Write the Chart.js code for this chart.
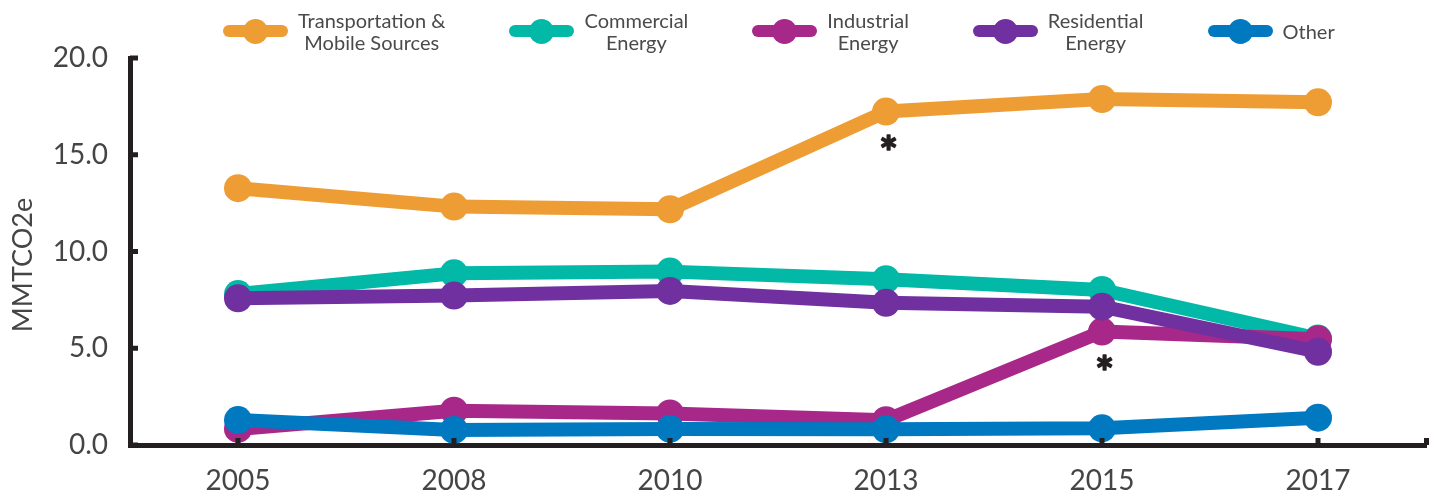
<!DOCTYPE html>
<html><head><meta charset="utf-8">
<script src="https://cdn.jsdelivr.net/npm/chart.js@4.4.0/dist/chart.umd.min.js"></script>
<style>
html,body{margin:0;padding:0;background:#fff;}
#wrap{position:relative;width:1440px;height:495px;overflow:hidden;}
#c{position:absolute;left:0;top:0;}
#legend{position:absolute;top:0;left:223px;height:62px;display:flex;align-items:center;font-family:Lato,sans-serif;font-size:20px;line-height:22px;color:#4a4a4a;}
.item{display:flex;align-items:center;margin-right:64px;}
.sw{position:relative;width:65px;height:25px;flex:none;}
.sw .bar{position:absolute;left:0;top:6.5px;width:65px;height:12px;border-radius:6px;}
.sw .dot{position:absolute;left:20px;top:0;width:25px;height:25px;border-radius:50%;}
.lbl{margin-left:10px;text-align:center;white-space:pre-line;}
</style></head>
<body><div id="wrap"><canvas id="c" width="1440" height="495"></canvas><div id="legend"></div></div>
<script>
const years = ['2005', '2008', '2010', '2013', '2015', '2017'];
const seriesNames = ['Transportation &\nMobile Sources', 'Commercial\nEnergy', 'Industrial\nEnergy', 'Residential\nEnergy', 'Other'];
const seriesColors = ['#EE9D34', '#02B8A6', '#A8288A', '#7030A0', '#0079C1'];
const transportation = [13.27, 12.32, 12.18, 17.23, 17.88, 17.71];
const commercial = [7.8, 8.87, 8.96, 8.56, 8.01, 5.5];
const industrial = [0.83, 1.77, 1.63, 1.28, 5.86, 5.46];
const residential = [7.58, 7.72, 7.96, 7.35, 7.15, 4.82];
const other = [1.29, 0.78, 0.83, 0.81, 0.86, 1.41];
const yTickValues = [0, 5, 10, 15, 20];
const yTitle = 'MMTCO2e';
const asteriskSeries = [0, 2];
const asteriskYears = ['2013', '2015'];

const seriesValues = [transportation, commercial, industrial, residential, other];
const drawOrder = [4, 3, 2, 1, 0];

// HTML legend
const legendEl = document.getElementById('legend');
seriesNames.forEach((n, i) => {
  const it = document.createElement('div'); it.className = 'item';
  const sw = document.createElement('div'); sw.className = 'sw';
  const bar = document.createElement('div'); bar.className = 'bar'; bar.style.background = seriesColors[i];
  const dot = document.createElement('div'); dot.className = 'dot'; dot.style.background = seriesColors[i];
  sw.appendChild(bar); sw.appendChild(dot);
  const lb = document.createElement('div'); lb.className = 'lbl'; lb.textContent = n;
  it.appendChild(sw); it.appendChild(lb);
  legendEl.appendChild(it);
});

const AXIS = '#231f20';
const TXT = '#454545';

const extras = {
  id: 'extras',
  afterDatasetsDraw(chart) {
    const {ctx, chartArea, scales: {x, y}} = chart;
    ctx.save();
    ctx.fillStyle = AXIS;
    y.ticks.forEach((t, i) => {
      const py = y.getPixelForTick(i);
      ctx.fillRect(chartArea.left, py - 2.5, 8, 5);
    });
    x.ticks.forEach((t, i) => {
      const px = x.getPixelForTick(i);
      ctx.fillRect(px - 2.5, chartArea.bottom - 7, 5, 7);
    });
    ctx.fillRect(chartArea.right - 2, chartArea.bottom - 7, 5, 7);
    // asterisks
    ctx.font = 'bold 44px Lato';
    ctx.textAlign = 'center';
    ctx.textBaseline = 'alphabetic';
    ctx.strokeStyle = AXIS;
    ctx.lineWidth = 1.6;
    ctx.lineJoin = 'round';
    const m = ctx.measureText('*');
    const off = (m.actualBoundingBoxAscent - m.actualBoundingBoxDescent) / 2;
    asteriskSeries.forEach((s, k) => {
      const idx = years.indexOf(asteriskYears[k]);
      const el = chart.getDatasetMeta(s).data[idx];
      ctx.fillText('*', el.x + 2.5, el.y + 30.5 + off);
      ctx.strokeText('*', el.x + 2.5, el.y + 30.5 + off);
    });
    // y title
    ctx.font = '27px Lato';
    ctx.fillStyle = TXT;
    ctx.textBaseline = 'middle';
    ctx.translate(23, 265);
    ctx.rotate(-Math.PI / 2);
    ctx.fillText(yTitle, 0, 0);
    ctx.restore();
  }
};

new Chart(document.getElementById('c'), {
  type: 'line',
  data: {
    labels: years,
    datasets: seriesValues.map((vals, i) => ({
      label: seriesNames[i].replace('\n', ' '),
      data: vals,
      borderColor: seriesColors[i],
      backgroundColor: seriesColors[i],
      pointBackgroundColor: seriesColors[i],
      borderWidth: 14,
      pointRadius: 14,
      pointHoverRadius: 14,
      pointBorderWidth: 0,
      borderJoinStyle: 'round',
      borderCapStyle: 'round',
      tension: 0,
      clip: false,
      order: drawOrder[i]
    }))
  },
  options: {
    responsive: false,
    animation: false,
    devicePixelRatio: 1,
    layout: {padding: {top: 58, left: 0, right: 11, bottom: 0}},
    plugins: {legend: {display: false}, tooltip: {enabled: false}},
    scales: {
      x: {
        type: 'category',
        offset: true,
        grid: {display: false, drawTicks: false},
        border: {display: true, width: 5, color: AXIS},
        ticks: {padding: 19, font: {family: 'Lato', size: 28}, color: TXT},
        afterFit(s) { s.height = 50; }
      },
      y: {
        min: 0, max: 20,
        afterBuildTicks(s) { s.ticks = yTickValues.map(v => ({value: v})); },
        grid: {display: false, drawTicks: false},
        border: {display: true, width: 5, color: AXIS},
        ticks: {padding: 22, font: {family: 'Lato', size: 28}, color: TXT, callback: v => Number(v).toFixed(1)},
        afterFit(s) { s.width = 130; }
      }
    }
  },
  plugins: [extras]
});
</script>
</body></html>
